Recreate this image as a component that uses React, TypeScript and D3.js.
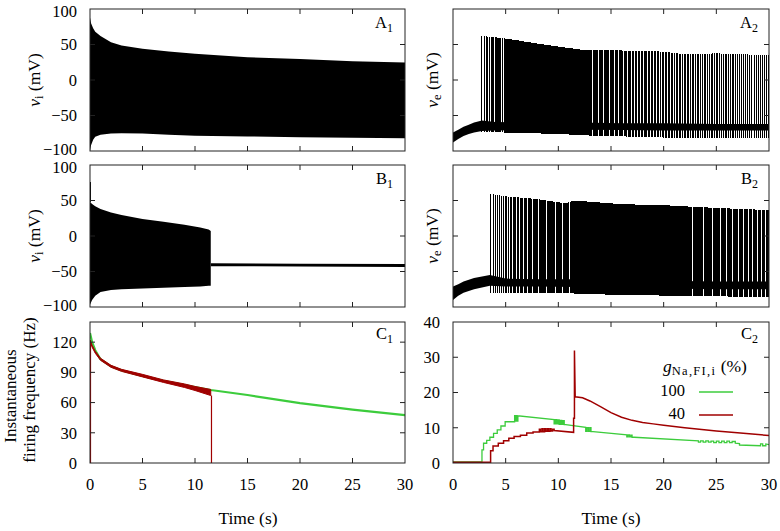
import React from 'react';
import * as d3 from 'd3';

// ---------- Data ----------
// A1: interneuron voltage envelope (gNa 100%)
const tA1 = [0, 0.1, 0.3, 0.5, 1, 2, 3, 5, 7.5, 10, 15, 20, 25, 30];
const a1Upper = [88, 80, 73, 68, 62, 53, 48.5, 44, 40, 37, 32, 29.5, 26.5, 24.5];
const a1Lower = [-100, -92, -84, -80, -77, -75.5, -75, -75.5, -77, -78.5, -79.5, -80.5, -81.5, -82];

// B1: interneuron voltage envelope (gNa 40%)
const tB1 = [0, 0.2, 0.5, 1, 2, 3, 5, 7, 9, 10.5, 11.3, 11.5];
const b1Upper = [48, 45, 42, 38, 33, 29.5, 24, 20, 16, 12, 9, 7];
const b1Lower = [-97, -90, -84, -79, -76, -75, -74, -73, -72, -71, -70, -70];
const tB1Rest = [11.5, 20, 30];
const b1RestUpper = [-38.5, -39, -39.5];
const b1RestLower = [-42.5, -43, -43.5];
const b1FirstPeak = 76;

// A2: excitatory cell voltage (gNa,i 100%)
const tA2Band = [0, 0.5, 1, 1.5, 2, 2.75, 4, 8, 12, 16, 20, 25, 30];
const a2BandLo = [-88, -83, -79, -76, -74, -72, -71, -70, -70, -70.5, -71, -71, -71];
const a2BandHi = [-74, -70, -66, -63, -60, -57, -59, -60, -60, -61, -61, -62, -62];
const tA2Spk = [2.75, 5, 7.5, 10, 12.5, 15, 17.5, 20, 22, 25, 30];
const a2Peak = [62, 58.5, 52.5, 47, 42, 42, 41, 40, 36, 37.5, 35];
const a2Trough = [-73, -74, -75, -76, -78, -79, -80, -81, -81, -82, -82];

// B2: excitatory cell voltage (gNa,i 40%)
const tB2Band = [0, 0.5, 1, 2, 3.5, 5, 8, 11.5, 15, 20, 25, 30];
const b2BandLo = [-90, -84, -80, -75, -70, -71, -71, -72, -73, -74, -75, -75];
const b2BandHi = [-71, -68, -64, -59, -55, -60, -61, -61, -62, -63, -64, -64];
const tB2Spk = [3.5, 5, 8, 10.75, 11.5, 15.8, 20.5, 25, 30];
const b2Peak = [59.5, 56, 52, 46, 50, 45, 43, 39.5, 36.5];
const b2Trough = [-80, -80, -80, -80, -81, -83, -84, -85, -86];

// C1: interneuron instantaneous firing frequency (Hz)
const tC1Green = [0, 0.2, 0.5, 1, 2, 3, 5, 7, 10, 11.5, 15, 20, 25, 30];
const fC1Green = [129, 120, 112, 103, 96, 92, 86.5, 81.5, 75.5, 72.5, 67.5, 59.5, 53, 47.5];
const tC1Red = [0, 0.2, 0.5, 1, 2, 3, 5, 7, 9, 10, 11.5];
const fC1RedHi = [122, 117, 111, 104, 97, 93, 88, 82.5, 78.5, 76, 73];
const fC1RedLo = [121, 115, 109, 102, 95, 91, 85.5, 80, 75, 72, 67];

// C2: excitatory cell instantaneous firing frequency (Hz)
const tC2Green = [0, 2.75, 2.75, 2.9, 2.9, 3.2, 3.2, 3.5, 3.5, 3.85, 3.85, 4.2, 4.2, 4.55, 4.55, 4.95, 4.95, 5.85, 5.85, 5.92, 5.92, 6.0, 6.0, 6.08, 6.08, 6.16, 6.16,
  9.6, 9.6, 9.72, 9.72, 9.84, 9.84, 9.96, 9.96, 10.08, 10.08, 10.2, 10.2, 10.32, 10.32, 10.44, 10.44, 10.56, 10.56, 10.7,
  12.6, 12.6, 12.72, 12.72, 12.85, 12.85, 12.98, 12.98, 13.1, 13.1, 13.3,
  16.5, 16.5, 16.62, 16.62, 16.75, 16.75, 16.88, 16.88, 17.0, 17.0, 17.2,
  23.3, 23.3, 23.5, 23.5, 23.75, 23.75, 24.0, 24.0, 24.25, 24.25, 24.5, 24.5, 24.75, 24.75, 25.0, 25.0, 25.25, 25.25, 25.5, 25.5, 25.75, 25.75, 26.0, 26.0, 26.25, 26.25, 26.5, 26.5, 26.8, 26.8,
  27.2, 27.2, 29.2, 29.2, 29.4, 29.4, 29.7, 29.7, 30];
const fC2Green = [0.3, 0.3, 3.7, 3.7, 5.6, 5.6, 6.4, 6.4, 7.3, 7.3, 8.4, 8.4, 9.4, 9.4, 10.5, 10.5, 11.7, 11.7, 13.4, 13.4, 11.9, 11.9, 13.4, 13.4, 11.9, 11.9, 13.4,
  12.3, 11.1, 11.1, 12.3, 12.3, 11.1, 11.1, 12.2, 12.2, 11.0, 11.0, 12.1, 12.1, 11.0, 11.0, 12.0, 12.0, 10.9, 10.9,
  10.1, 9.0, 9.0, 10.0, 10.0, 9.0, 9.0, 10.0, 10.0, 8.9, 8.9,
  8.0, 7.4, 7.4, 8.0, 8.0, 7.4, 7.4, 7.9, 7.9, 7.3, 7.3,
  6.3, 5.9, 5.9, 6.3, 6.3, 5.9, 5.9, 6.3, 6.3, 5.9, 5.9, 6.2, 6.2, 5.8, 5.8, 6.2, 6.2, 5.8, 5.8, 6.2, 6.2, 5.8, 5.8, 6.2, 6.2, 5.8, 5.8, 6.1, 6.1, 5.6,
  5.5, 5.1, 4.9, 5.4, 5.4, 4.9, 4.9, 5.4, 5.2];
const tC2Red = [0, 3.57, 3.57, 3.8, 3.8, 4.3, 4.3, 4.8, 4.8, 5.3, 5.3, 5.8, 5.8, 6.4, 6.4, 7.0, 7.0, 7.6, 7.6, 8.2, 8.2,
  8.3, 8.3, 8.45, 8.45, 8.55, 8.55, 8.7, 8.7, 8.8, 8.8, 8.95, 8.95, 9.05, 9.05, 9.2, 9.2, 9.3, 9.3, 9.45, 9.45, 9.6, 9.6,
  11.45, 11.45, 11.53, 11.53, 11.6, 12.3, 13, 14, 15, 16, 17, 18, 19, 20, 22, 25, 27, 30];
const fC2Red = [0.2, 0.2, 3.5, 3.5, 4.8, 4.8, 5.6, 5.6, 6.3, 6.3, 7.0, 7.0, 7.5, 7.5, 7.9, 7.9, 8.5, 8.5, 8.8, 8.8, 9.6,
  9.6, 8.9, 8.9, 9.7, 9.7, 8.9, 8.9, 9.7, 9.7, 9.0, 9.0, 9.7, 9.7, 9.0, 9.0, 9.7, 9.7, 9.1, 9.1, 9.6, 9.6, 9.2,
  8.7, 12.7, 12.7, 31.9, 18.8, 18.5, 17.6, 16, 14.3, 13, 12.1, 11.5, 11.1, 10.7, 10, 9.1, 8.6, 7.8];

const xTickVals = [0, 5, 10, 15, 20, 25, 30];
const vTickLabels = [-100, -50, 0, 50, 100];
const c1TickLabels = [0, 30, 60, 90, 120];
const c2TickLabels = [0, 10, 20, 30, 40];
const legendLabels = ['100', '40'];

// ---------- Styling ----------
const FONT = 'Liberation Serif';
const FS = 16.5;
const FT = 17.5;
const AX = '#222';
const GREEN = '#3ccc3c';
const RED = '#a00000';

const xL = d3.scaleLinear().domain([0, 30]).range([90, 405]);
const xR = d3.scaleLinear().domain([0, 30]).range([453, 769]);
const rowA: [number, number] = [151, 9];
const rowB: [number, number] = [307, 165];
const rowC: [number, number] = [463, 322];

const yA = d3.scaleLinear().domain([-100, 100]).range(rowA);
const yB = d3.scaleLinear().domain([-100, 100]).range(rowB);
const yC1 = d3.scaleLinear().domain([0, 140]).range(rowC);
const yC2 = d3.scaleLinear().domain([0, 40]).range(rowC);

function interp(ts: number[], vs: number[], t: number): number {
  if (t <= ts[0]) return vs[0];
  for (let i = 1; i < ts.length; i++) {
    if (t < ts[i] || (t === ts[i] && i === ts.length - 1)) {
      const t0 = ts[i - 1], t1 = ts[i];
      if (t1 === t0) return vs[i];
      return vs[i - 1] + (vs[i] - vs[i - 1]) * (t - t0) / (t1 - t0);
    }
  }
  return vs[vs.length - 1];
}

// spike times derived from the measured instantaneous frequency
function spikeTimes(ts: number[], fs: number[], start: number, end: number): number[] {
  const out = [start];
  let phase = 0;
  const dt = 0.002;
  for (let t = start; t < end; t += dt) {
    phase += interp(ts, fs, t) * dt;
    if (phase >= 1) { phase -= 1; out.push(t); }
  }
  return out;
}

function zip3(t: number[], lo: number[], hi: number[]) {
  return t.map((v, i) => ({ t: v, lo: lo[i], hi: hi[i] }));
}

type Sc = d3.ScaleLinear<number, number>;

function bandPath(x: Sc, y: Sc, t: number[], lo: number[], hi: number[]) {
  return d3.area<{ t: number; lo: number; hi: number }>()
    .x(d => x(d.t)).y0(d => y(d.lo)).y1(d => y(d.hi))(zip3(t, lo, hi)) || '';
}

function linePath(x: Sc, y: Sc, t: number[], v: number[]) {
  return d3.line<number>().x((_, i) => x(t[i])).y(d => y(d))(v) || '';
}

function fmt(v: number) {
  return v < 0 ? '\u2212' + Math.abs(v) : String(v);
}

function Frame({ x, y, yTicks, yLabels, showX, labelRight, nudge }: { x: Sc; y: Sc; yTicks: number[]; yLabels?: number[]; showX: boolean; labelRight: number; nudge?: boolean }) {
  const [x0, x1] = x.range();
  const [yb, yt] = y.range();
  const TL = 5;
  const inner = xTickVals.filter(v => v > 0 && v < 30);
  return (
    <g>
      <g stroke={AX} strokeWidth={1}>
        {inner.map(v => (
          <g key={'x' + v}>
            <line x1={x(v)} x2={x(v)} y1={yb} y2={yb - TL} />
            <line x1={x(v)} x2={x(v)} y1={yt} y2={yt + TL} />
          </g>
        ))}
        {yTicks.map(v => (
          <g key={'y' + v}>
            <line x1={x0} x2={x0 + TL} y1={y(v)} y2={y(v)} />
            <line x1={x1} x2={x1 - TL} y1={y(v)} y2={y(v)} />
          </g>
        ))}
      </g>
      <rect x={x0} y={yt} width={x1 - x0} height={yb - yt} fill="none" stroke={AX} strokeWidth={1} />
      {yLabels && yLabels.map((v, i) => {
        let off = 0;
        if (nudge && i === 0) off = -2;
        if (nudge && i === yLabels.length - 1) off = 2;
        return (
          <text key={'yl' + v} x={labelRight} y={y(v) + off} dy="0.35em" textAnchor="end" fontFamily={FONT} fontSize={FS}>{fmt(v)}</text>
        );
      })}
      {showX && xTickVals.map(v => (
        <text key={'xl' + v} x={x(v)} y={490} textAnchor="middle" fontFamily={FONT} fontSize={FS}>{v}</text>
      ))}
    </g>
  );
}

function PanelLabel({ x, y, letter, sub }: { x: number; y: number; letter: string; sub: string }) {
  return (
    <text x={x} y={y} textAnchor="end" fontFamily={FONT} fontSize={FS}>
      {letter}<tspan dy={4} fontSize={12}>{sub}</tspan>
    </text>
  );
}

function VLabel({ x, y, sub }: { x: number; y: number; sub: string }) {
  return (
    <text transform={`translate(${x},${y}) rotate(-90)`} textAnchor="middle" fontFamily={FONT} fontSize={FT}>
      <tspan fontStyle="italic">v</tspan>
      <tspan fontSize={12.5} dy={3}>{sub}</tspan>
      <tspan dy={-3}>{' (mV)'}</tspan>
    </text>
  );
}

function Spikes({ x, y, times, tEnv, peak, trough }: { x: Sc; y: Sc; times: number[]; tEnv: number[]; peak: number[]; trough: number[] }) {
  return (
    <g stroke="#000" strokeWidth={1} shapeRendering="crispEdges">
      {times.map((t, i) => (
        <line key={i} x1={x(t)} x2={x(t)} y1={y(interp(tEnv, trough, t))} y2={y(interp(tEnv, peak, t))} />
      ))}
    </g>
  );
}

export default function App() {
  const a2Times = spikeTimes(tC2Green, fC2Green, 2.75, 30);
  const b2Times = spikeTimes(tC2Red, fC2Red, 3.57, 30);

  return (
    <svg width={780} height={531} style={{ position: 'absolute', left: 0, top: 0, background: '#fff' }}>
      <defs>
        {[['cA1', xL, rowA], ['cA2', xR, rowA], ['cB1', xL, rowB], ['cB2', xR, rowB], ['cC1', xL, rowC], ['cC2', xR, rowC]].map(([id, x, r]: any) => (
          <clipPath id={id} key={id}>
            <rect x={x.range()[0]} y={r[1]} width={x.range()[1] - x.range()[0]} height={r[0] - r[1]} />
          </clipPath>
        ))}
      </defs>

      {/* A1 */}
      <g clipPath="url(#cA1)">
        <path d={bandPath(xL, yA, tA1, a1Lower, a1Upper)} fill="#000" />
      </g>
      <Frame x={xL} y={yA} yTicks={[-50, 0, 50]} yLabels={vTickLabels} showX={false} labelRight={77} nudge />
      <PanelLabel x={393} y={28} letter="A" sub="1" />
      <VLabel x={40} y={80} sub="i" />

      {/* A2 */}
      <g clipPath="url(#cA2)">
        <path d={bandPath(xR, yA, tA2Band, a2BandLo, a2BandHi)} fill="#000" />
        <Spikes x={xR} y={yA} times={a2Times} tEnv={tA2Spk} peak={a2Peak} trough={a2Trough} />
      </g>
      <Frame x={xR} y={yA} yTicks={[-50, 0, 50]} showX={false} labelRight={440} />
      <PanelLabel x={758} y={28} letter="A" sub="2" />
      <VLabel x={438} y={80} sub="e" />

      {/* B1 */}
      <g clipPath="url(#cB1)">
        <path d={bandPath(xL, yB, tB1, b1Lower, b1Upper)} fill="#000" />
        <path d={bandPath(xL, yB, tB1Rest, b1RestLower, b1RestUpper)} fill="#000" />
        <line x1={xL(0) + 0.5} x2={xL(0) + 0.5} y1={yB(b1Upper[0])} y2={yB(b1FirstPeak)} stroke="#000" strokeWidth={1} />
      </g>
      <Frame x={xL} y={yB} yTicks={[-50, 0, 50]} yLabels={vTickLabels} showX={false} labelRight={77} nudge />
      <PanelLabel x={393} y={184} letter="B" sub="1" />
      <VLabel x={40} y={236} sub="i" />

      {/* B2 */}
      <g clipPath="url(#cB2)">
        <path d={bandPath(xR, yB, tB2Band, b2BandLo, b2BandHi)} fill="#000" />
        <Spikes x={xR} y={yB} times={b2Times} tEnv={tB2Spk} peak={b2Peak} trough={b2Trough} />
      </g>
      <Frame x={xR} y={yB} yTicks={[-50, 0, 50]} showX={false} labelRight={440} />
      <PanelLabel x={758} y={184} letter="B" sub="2" />
      <VLabel x={438} y={236} sub="e" />

      {/* C1 */}
      <g clipPath="url(#cC1)">
        <path d={linePath(xL, yC1, tC1Green, fC1Green)} fill="none" stroke={GREEN} strokeWidth={2.2} />
        <path d={bandPath(xL, yC1, tC1Red, fC1RedLo, fC1RedHi)} fill={RED} stroke={RED} strokeWidth={1} />
        <line x1={xL(0) + 0.5} x2={xL(0) + 0.5} y1={yC1(0)} y2={yC1(fC1RedHi[0])} stroke={RED} strokeWidth={1.2} />
        <line x1={xL(11.57)} x2={xL(11.57)} y1={yC1(0)} y2={yC1(fC1RedLo[fC1RedLo.length - 1])} stroke={RED} strokeWidth={1.2} />
      </g>
      <Frame x={xL} y={yC1} yTicks={[30, 60, 90, 120]} yLabels={c1TickLabels} showX={true} labelRight={77} />
      <PanelLabel x={393} y={339} letter="C" sub="1" />
      <text transform="translate(16,396) rotate(-90)" textAnchor="middle" fontFamily={FONT} fontSize={17}>Instantaneous</text>
      <text transform="translate(35,390) rotate(-90)" textAnchor="middle" fontFamily={FONT} fontSize={17}>firing frequency (Hz)</text>
      <text x={248} y={524} textAnchor="middle" fontFamily={FONT} fontSize={FT}>Time (s)</text>

      {/* C2 */}
      <g clipPath="url(#cC2)">
        <path d={linePath(xR, yC2, tC2Green, fC2Green)} fill="none" stroke={GREEN} strokeWidth={1.3} />
        <path d={linePath(xR, yC2, tC2Red, fC2Red)} fill="none" stroke={RED} strokeWidth={1.5} />
      </g>
      <Frame x={xR} y={yC2} yTicks={[10, 20, 30]} yLabels={c2TickLabels} showX={true} labelRight={440} />
      <PanelLabel x={758} y={339} letter="C" sub="2" />
      <text x={611} y={524} textAnchor="middle" fontFamily={FONT} fontSize={FT}>Time (s)</text>

      {/* Legend */}
      <text x={663} y={372} fontFamily={FONT} fontSize={FT}>
        <tspan fontStyle="italic">g</tspan>
        <tspan fontSize={12.5} dy={3} letterSpacing={1.3}>Na,FI,i</tspan>
        <tspan dy={-3}>{' (%)'}</tspan>
      </text>
      <text x={685} y={396} textAnchor="end" fontFamily={FONT} fontSize={FS}>{legendLabels[0]}</text>
      <line x1={699} x2={733} y1={392} y2={392} stroke={GREEN} strokeWidth={1.5} />
      <text x={685} y={419} textAnchor="end" fontFamily={FONT} fontSize={FS}>{legendLabels[1]}</text>
      <line x1={699} x2={733} y1={415} y2={415} stroke={RED} strokeWidth={1.5} />
    </svg>
  );
}
